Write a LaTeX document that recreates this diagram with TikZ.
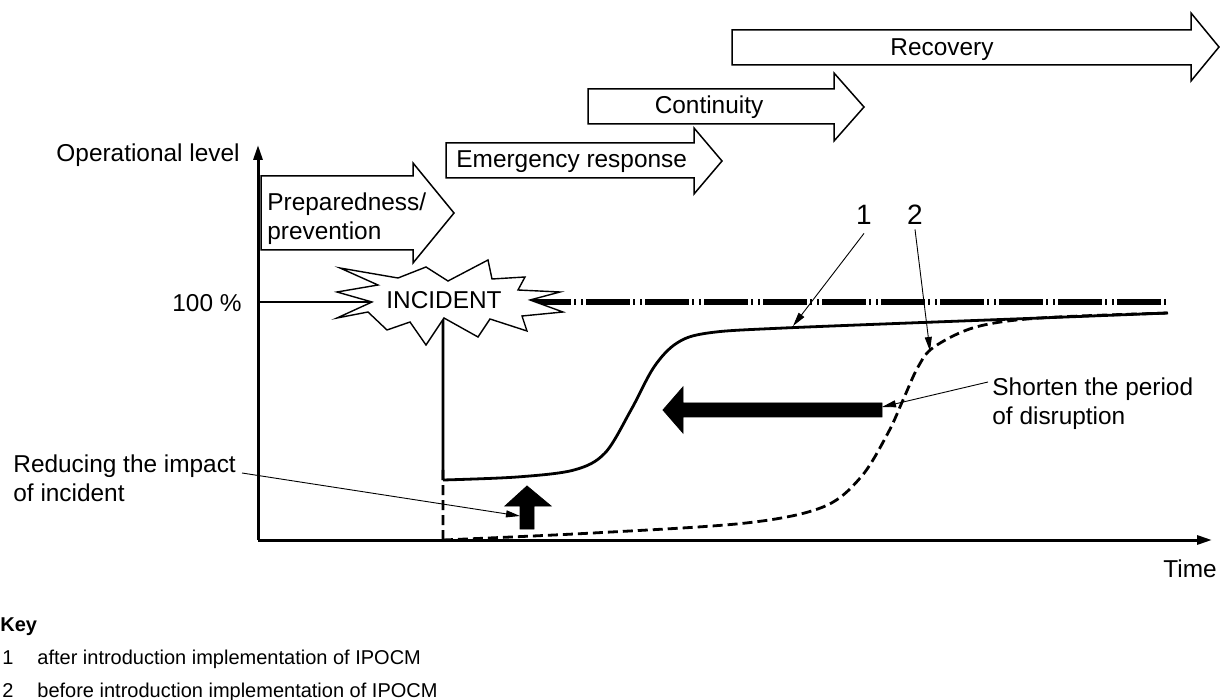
\documentclass[tikz,border=0pt]{standalone}
\usepackage{fontspec}
\setmainfont{Liberation Sans}
\usetikzlibrary{arrows.meta}

\begin{document}
\begin{tikzpicture}[x=0.5pt,y=-0.5pt,
    lbl/.style={font=\fontsize{12.2}{14.5}\selectfont,inner sep=0pt},
    keytxt/.style={font=\fontsize{10}{12}\selectfont,inner sep=0pt,anchor=base west},
    phase/.style={draw=black,line width=0.75pt,fill=white},
    ptr/.style={line width=0.45pt,-{Triangle[length=7pt,width=3.5pt]}},
    axis/.style={line width=1.5pt,-{Triangle[length=7.5pt,width=4.5pt]}},
    curve/.style={line width=1.4pt}]
    \useasboundingbox (0,0) rectangle (1222,700);

    % phases
    \draw[phase] (732,30) -- (1191,30) -- (1191,13) -- (1219,47) -- (1191,81) -- (1191,65) -- (732,65) -- cycle;
    \node[lbl,anchor=base] (recov) at (942,56) {Recovery};
    \draw[phase] (588,89) -- (834,89) -- (834,73) -- (864,107) -- (834,141) -- (834,124) -- (588,124) -- cycle;
    \node[lbl,anchor=base] (cont) at (709,114) {Continuity};
    \draw[phase] (446,143) -- (694,143) -- (694,128) -- (722,161) -- (694,194) -- (694,178) -- (446,178) -- cycle;
    \node[lbl,anchor=base west] (emerg) at (456,168) {Emergency response};
    \draw[phase] (261,176) -- (413,176) -- (413,163) -- (454,213) -- (413,263) -- (413,250) -- (261,250) -- cycle;
    \node[lbl,anchor=north west,align=left] (prep) at (267,192) {Preparedness/\\prevention};

    % axes
    \coordinate (o) at (258,540);
    \coordinate (ytop) at (258,145);
    \coordinate (xend) at (1212,540);
    \coordinate (full) at (258,302);
    \draw[axis] (o) -- (ytop);
    \draw[axis] (o) -- (xend);
    \node[lbl,anchor=base east] (ylab) at (240,162) {Operational level};
    \node[lbl,anchor=base east] (pct) at (242,312) {100 \%};
    \node[lbl,anchor=base west] (time) at (1163,577) {Time};

    % 100 % level
    \draw[curve] (full) -- (372,302);
    \draw[line width=3pt,dash pattern=on 22pt off 1.5pt on 1pt off 2.5pt on 1pt off 1.5pt] (527,302) -- (1168,302);

    % curve 2 (before)
    \draw[curve,dash pattern=on 5pt off 2.5pt] (443,470) -- (443,540)
        plot[smooth,tension=0.55] coordinates {(443,540) (593,533) (746,523) (823,507) (861,477) (888,433) (903,400) (918,367) (934,347) (976,327) (1040,318) (1168,313)};
    % curve 1 (after)
    \draw[curve] (443,318) -- (443,480)
        plot[smooth,tension=0.55] coordinates {(443,480) (517,477) (574,470) (605,453) (631,410) (654,367) (677,343) (708,333) (784,328) (1040,318) (1168,313)};

    % incident
    \draw[line width=0.7pt,fill=white] (372,302) -- (337,292) -- (378,285) -- (340,268) -- (398,278) -- (426,267)
        -- (448,281) -- (488,260) -- (492,279) -- (525,277) -- (518,290) -- (560,292) -- (530,300)
        -- (563,312) -- (522,316) -- (527,331) -- (490,319) -- (478,337) -- (444,318) -- (426,345)
        -- (410,322) -- (387,330) -- (368,312) -- (337,318) -- cycle;
    \node[lbl,anchor=base] (inc) at (444,309) {INCIDENT};

    % improvement arrows
    \draw[fill=black] (882,403) -- (683,403) -- (683,387) -- (663,410) -- (683,433) -- (683,417) -- (882,417) -- cycle;
    \draw[fill=black] (520,529) -- (520,506) -- (505,506) -- (527,486) -- (551,506) -- (534,506) -- (534,529) -- cycle;
    \coordinate (fatR) at (882,407);
    \coordinate (upL) at (520,516);

    % labels
    \node[lbl,font=\fontsize{14}{16}\selectfont,anchor=base,inner sep=0pt] (one) at (864,225) {1};
    \node[lbl,font=\fontsize{14}{16}\selectfont,anchor=base,inner sep=0pt] (two) at (915,225) {2};
    \coordinate (c1) at (793,326);
    \coordinate (c2) at (930,351);
    \draw[ptr] ([yshift=-4pt]one.south) -- (c1);
    \draw[ptr] ([yshift=-2pt]two.south) -- (c2);
    \node[lbl,anchor=north west,align=left] (shorten) at (992,377) {Shorten the period\\of disruption};
    \coordinate (sh) at (988,382);
    \draw[ptr] (sh) -- (fatR);
    \node[lbl,anchor=north west,align=left] (reduce) at (13,454) {Reducing the impact\\of incident};
    \coordinate (rd) at (242,473);
    \draw[ptr] (rd) -- (upL);

    % key
    \node[keytxt,font=\fontsize{10}{12}\selectfont\bfseries] (key) at (0,631) {Key};
    \node[keytxt] (k1) at (2,664) {1};
    \node[keytxt] (k1t) at (37,664) {after introduction implementation of IPOCM};
    \node[keytxt] (k2) at (2,697) {2};
    \node[keytxt] (k2t) at (37,697) {before introduction implementation of IPOCM};
\end{tikzpicture}
\end{document}
